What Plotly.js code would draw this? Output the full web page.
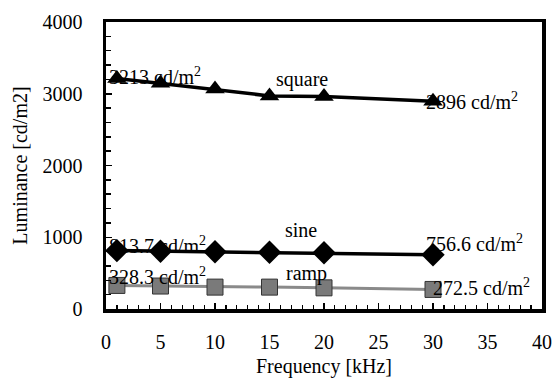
<!DOCTYPE html>
<html>
<head>
<meta charset="utf-8">
<script src="https://cdn.plot.ly/plotly-3.0.1.min.js"></script>
<style>html,body{margin:0;padding:0;background:#fff;}#chart{width:554px;height:390px;}</style>
</head>
<body>
<div id="chart"></div>
<script>
const frequency = [1, 5, 10, 15, 20, 30];
const squareLum = [3213, 3145, 3065, 2970, 2960, 2896];
const sineLum = [813.7, 805, 798, 790, 783, 756.6];
const rampLum = [328.3, 320, 305, 305, 295, 272.5];
const xTicks = [0, 5, 10, 15, 20, 25, 30, 35, 40];
const yTicks = [0, 1000, 2000, 3000, 4000];

const labels = [
  {x: 0.1, y: 3245, text: '3213 cd/m<sup>2</sup>', xanchor: 'left'},
  {x: 18.0, y: 3200, text: 'square', xanchor: 'center'},
  {x: 29.2, y: 2900, text: '2896 cd/m<sup>2</sup>', xanchor: 'left'},
  {x: 0.1, y: 895, text: '813.7 cd/m<sup>2</sup>', xanchor: 'left'},
  {x: 17.9, y: 1100, text: 'sine', xanchor: 'center'},
  {x: 29.2, y: 920, text: '756.6 cd/m<sup>2</sup>', xanchor: 'left'},
  {x: 0.1, y: 460, text: '328.3 cd/m<sup>2</sup>', xanchor: 'left'},
  {x: 18.4, y: 495, text: 'ramp', xanchor: 'center'},
  {x: 29.8, y: 305, text: '272.5 cd/m<sup>2</sup>', xanchor: 'left'}
];

const font = 'Times New Roman, Liberation Serif, Times, serif';

const traces = [
  {x: frequency, y: squareLum, mode: 'lines+markers', name: 'square',
   line: {color: '#000', width: 3.5},
   marker: {symbol: 'triangle-up', size: 17, color: '#000'}},
  {x: frequency, y: sineLum, mode: 'lines+markers', name: 'sine',
   line: {color: '#000', width: 3.5},
   marker: {symbol: 'diamond', size: 18, color: '#000'}},
  {x: frequency, y: rampLum, mode: 'lines+markers', name: 'ramp',
   line: {color: '#8a8a8a', width: 3},
   marker: {symbol: 'square', size: 16, color: '#7a7a7a', line: {color: '#333', width: 1}}}
];

const layout = {
  width: 554, height: 390,
  margin: {l: 106, r: 12, t: 22, b: 81},
  paper_bgcolor: '#fff', plot_bgcolor: '#fff',
  showlegend: false,
  font: {family: font, color: '#000', size: 20},
  xaxis: {
    range: [0, 40], tickvals: xTicks, ticktext: xTicks.map(String),
    showgrid: false, zeroline: false,
    showline: true, mirror: true, linecolor: '#000', linewidth: 3.5,
    ticks: 'inside', ticklen: 6, tickwidth: 1.5, tickcolor: '#000',
    minor: {dtick: 1, ticks: 'inside', ticklen: 4, tickwidth: 1.2, tickcolor: '#000'},
    ticklabelstandoff: 12,
    tickfont: {family: font, size: 20, color: '#000'},
    title: {text: 'Frequency [kHz]', font: {family: font, size: 20, color: '#000'}, standoff: 8}
  },
  yaxis: {
    range: [0, 4000], tickvals: yTicks, ticktext: yTicks.map(String),
    showgrid: false, zeroline: false,
    showline: true, mirror: true, linecolor: '#000', linewidth: 3.5,
    ticks: 'inside', ticklen: 6, tickwidth: 1.5, tickcolor: '#000',
    minor: {dtick: 200, ticks: 'inside', ticklen: 5, tickwidth: 1.5, tickcolor: '#000'},
    ticklabelstandoff: 16,
    tickfont: {family: font, size: 20, color: '#000'},
    title: {text: 'Luminance [cd/m2]', font: {family: font, size: 20, color: '#000'}, standoff: 10}
  },
  annotations: labels.map(a => ({
    x: a.x, y: a.y, xref: 'x', yref: 'y', text: a.text, showarrow: false,
    xanchor: a.xanchor, yanchor: 'middle',
    font: {family: font, size: 20, color: '#000'}
  }))
};

Plotly.newPlot('chart', traces, layout, {displayModeBar: false, staticPlot: true});
</script>
</body>
</html>
